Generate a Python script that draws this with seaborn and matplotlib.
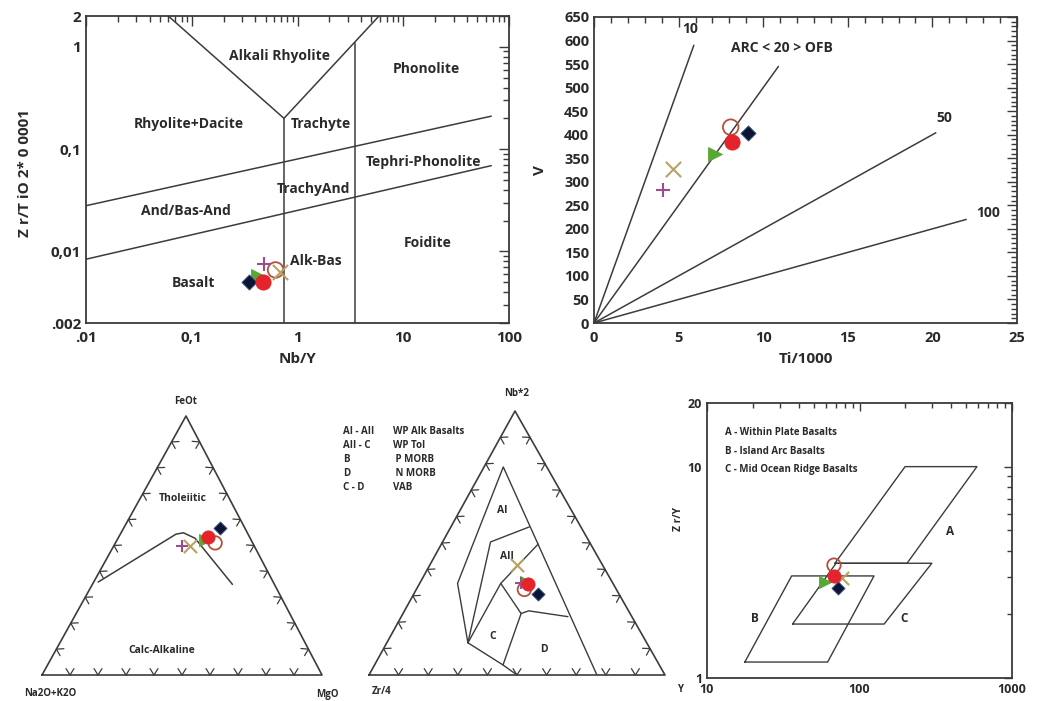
import numpy as np
import pandas as pd
import matplotlib
matplotlib.use("Agg")
import matplotlib.pyplot as plt
import seaborn as sns
from matplotlib.ticker import FixedLocator, FixedFormatter, NullFormatter, MultipleLocator

# ------------------------------------------------------------------ data
samples = ["S1", "S2", "S3", "S4", "S5", "S6"]
sample_marker = ["o", "D", ">", "o", "+", "x"]
sample_face = ["#e4232b", "#0c1533", "#58a834", "none", "#9b4d8d", "#b8a263"]
sample_edge = ["#e4232b", "#3d5a8a", "#58a834", "#b3503c", "#9b4d8d", "#b8a263"]
draw_order = [3, 2, 4, 5, 1, 0]

# Panel 1: Nb/Y vs Zr/TiO2*0.0001
wf_nb_y = [0.47, 0.35, 0.42, 0.62, 0.48, 0.68]
wf_zr_ti = [0.0050, 0.0050, 0.0058, 0.0066, 0.0075, 0.0063]
wf_upper_x = [0.01, 68]
wf_upper_y = [0.028, 0.21]
wf_lower_x = [0.01, 68]
wf_lower_y = [0.0084, 0.069]
wf_v_x = [0.06, 0.745, 5.9]
wf_v_y = [2.0, 0.2, 2.0]
wf_vert_x = [0.745, 3.5]
wf_vert_top = [0.2, 1.1]
wf_labels = ["Alkali Rhyolite", "Phonolite", "Rhyolite+Dacite", "Trachyte", "Tephri-Phonolite",
             "TrachyAnd", "And/Bas-And", "Foidite", "Alk-Bas", "Basalt"]
wf_label_x = [0.67, 16.4, 0.094, 1.67, 15.7, 1.43, 0.088, 17.0, 1.5, 0.103]
wf_label_y = [0.81, 0.61, 0.176, 0.176, 0.075, 0.041, 0.025, 0.012, 0.0081, 0.0049]
wf_xticks = [0.01, 0.1, 1, 10, 100]
wf_xticklabels = [".01", "0,1", "1", "10", "100"]
wf_yticks = [0.002, 0.01, 0.1, 1, 2]
wf_yticklabels = [".002", "0,01", "0,1", "1", "2"]

# Panel 2: Ti/1000 vs V
sh_ti = [8.15, 9.12, 7.15, 8.08, 4.10, 4.69]
sh_v = [384, 403, 359, 416, 283, 327]
sh_ratio = [10, 20, 50, 100]
sh_end_ti = [5.9, 10.9, 20.2, 22.0]
sh_labels = ["10", "ARC < 20 > OFB", "50", "100"]
sh_label_x = [5.7, 11.1, 20.7, 23.3]
sh_label_y = [625, 584, 435, 233]

# Panel 3: AFM (FeOt / MgO / Na2O+K2O)
afm_feo = [0.533, 0.568, 0.521, 0.510, 0.498, 0.498]
afm_mgo = [0.319, 0.344, 0.314, 0.356, 0.244, 0.273]
afm_alk = [0.148, 0.088, 0.165, 0.134, 0.258, 0.229]
afm_b_feo = [0.359, 0.544, 0.549, 0.528, 0.350]
afm_b_mgo = [0.016, 0.199, 0.223, 0.275, 0.500]
afm_b_alk = [0.625, 0.257, 0.228, 0.197, 0.150]
afm_labels = ["Tholeiitic", "Calc-Alkaline"]
afm_label_feo = [0.68, 0.093]
afm_label_mgo = [0.151, 0.381]
afm_label_alk = [0.169, 0.526]

# Panel 4: Nb*2 / Zr/4 / Y
m_nb = [0.344, 0.306, 0.352, 0.324, 0.347, 0.416]
m_y = [0.369, 0.419, 0.357, 0.365, 0.342, 0.296]
m_zr = [0.287, 0.275, 0.291, 0.311, 0.311, 0.288]
m_nodes = {  # (Nb*2, Y, Zr/4)
    "K": (0.788, 0.065, 0.147), "L": (0.347, 0.128, 0.525), "A": (0.122, 0.274, 0.604),
    "G": (0.0, 0.5, 0.5), "M": (0.0, 0.77, 0.23), "H": (0.504, 0.162, 0.334),
    "I": (0.561, 0.265, 0.174), "J": (0.496, 0.327, 0.177), "B": (0.347, 0.274, 0.379),
    "C": (0.233, 0.399, 0.368), "D": (0.243, 0.42, 0.337), "E": (0.221, 0.563, 0.216),
    "F": (0.038, 0.434, 0.528)}
m_paths = [["G", "F", "A", "L", "K", "M"], ["A", "H", "I"], ["A", "B", "J"],
           ["B", "C", "D", "E"], ["C", "F"]]
m_labels = ["AI", "AII", "C", "D"]
m_label_nb = [0.622, 0.448, 0.145, 0.097]
m_label_y = [0.142, 0.246, 0.345, 0.542]
m_label_zr = [0.236, 0.306, 0.51, 0.361]
m_key_left = ["AI - AII", "AII - C", "B", "D", "C - D"]
m_key_right = ["WP Alk Basalts", "WP Tol", " P MORB", " N MORB", "VAB"]

# Panel 5: Zr vs Zr/Y
pn_zr = [68, 72.6, 59.3, 68, np.nan, 76.7]
pn_zr_y = [3.04, 2.68, 2.85, 3.42, np.nan, 2.97]
pn_field_A_x = [69, 205, 589, 199]
pn_field_A_y = [3.49, 3.49, 10.0, 10.0]
pn_field_B_x = [17.7, 61.8, 124.5, 35.9]
pn_field_B_y = [1.19, 1.19, 3.04, 3.04]
pn_field_C_x = [36.4, 145, 298, 70.2]
pn_field_C_y = [1.80, 1.80, 3.49, 3.49]
pn_labels = ["A", "B", "C"]
pn_label_x = [394, 20.6, 197]
pn_label_y = [4.92, 1.91, 1.91]
pn_key = ["A - Within Plate Basalts", "B - Island Arc Basalts", "C - Mid Ocean Ridge Basalts"]

# ------------------------------------------------------------------ style
sns.set_theme(style="white")
plt.rcParams["font.family"] = ["Open Sans", "DejaVu Sans"]
plt.rcParams.update({
    "axes.edgecolor": "#3a3a3a", "axes.linewidth": 1.3,
    "text.color": "#2a2a2a", "axes.labelcolor": "#2a2a2a",
    "xtick.color": "#3a3a3a", "ytick.color": "#3a3a3a",
    "xtick.labelcolor": "#2a2a2a", "ytick.labelcolor": "#2a2a2a",
})
LINE = "#3c3c3c"
TXT = "#2a2a2a"

fig = plt.figure(figsize=(10.42, 7.01), dpi=100)
fig.patch.set_facecolor("white")


def px_axes(l, t, r, b):
    return fig.add_axes([l / 1042, 1 - b / 701, (r - l) / 1042, (b - t) / 701])


def draw_samples(ax, xs, ys, scale=1.0):
    df = pd.DataFrame({"sample": samples, "x": xs, "y": ys})
    sizes = [120, 60, 100, 125, 90, 120]
    for i in draw_order:
        row = df.iloc[[i]]
        if row[["x", "y"]].isna().any(axis=None):
            continue
        m = sample_marker[i]
        kw = dict(x="x", y="y", data=row, ax=ax, marker=m, s=sizes[i] * scale,
                  legend=False, zorder=6, clip_on=False)
        if m in ("+", "x"):
            sns.scatterplot(color=sample_face[i], linewidth=1.5, **kw)
        else:
            sns.scatterplot(color=sample_face[i], edgecolor=sample_edge[i],
                            linewidth=1.3 if sample_face[i] == "none" else 0.6, **kw)


def style_box(ax):
    ax.tick_params(which="both", direction="in", top=True, right=True, width=1.0)
    ax.tick_params(which="major", length=7)
    ax.tick_params(which="minor", length=4)
    for s in ax.spines.values():
        s.set_visible(True)
        s.set_color("#3a3a3a")
        s.set_linewidth(1.3)


# ------------------------------------------------------------------ panel 1
ax1 = px_axes(86, 16, 509, 323)
ax1.set_xscale("log")
ax1.set_yscale("log")
ax1.set_xlim(0.01, 100)
ax1.set_ylim(0.002, 2)
ax1.plot(wf_upper_x, wf_upper_y, color=LINE, lw=1.1)
ax1.plot(wf_lower_x, wf_lower_y, color=LINE, lw=1.1)
ax1.plot(wf_v_x, wf_v_y, color=LINE, lw=1.1)
for vx, vt in zip(wf_vert_x, wf_vert_top):
    ax1.plot([vx, vx], [0.002, vt], color=LINE, lw=1.1)
for t, x, y in zip(wf_labels, wf_label_x, wf_label_y):
    ax1.text(x, y, t, ha="center", va="center", fontsize=10, fontweight="bold", color=TXT)
draw_samples(ax1, wf_nb_y, wf_zr_ti)
style_box(ax1)
ax1.xaxis.set_major_locator(FixedLocator(wf_xticks))
ax1.xaxis.set_major_formatter(FixedFormatter(wf_xticklabels))
ax1.yaxis.set_major_locator(FixedLocator(wf_yticks))
ax1.yaxis.set_major_formatter(FixedFormatter(wf_yticklabels))
ax1.xaxis.set_minor_formatter(NullFormatter())
ax1.yaxis.set_minor_formatter(NullFormatter())
ax1.tick_params(labelsize=11)
for lab in ax1.get_xticklabels() + ax1.get_yticklabels():
    lab.set_fontweight("bold")
ax1.tick_params(axis="x", pad=6)
ax1.set_xlabel("Nb/Y", fontsize=11, fontweight="bold")
ax1.set_ylabel("Z r/T iO 2* 0 0001", fontsize=11, fontweight="bold")
ax1.xaxis.set_label_coords(0.5, -0.095)
ax1.yaxis.set_label_coords(-0.128, 0.49)

# ------------------------------------------------------------------ panel 2
ax2 = px_axes(594, 17, 1017, 323)
ax2.set_xlim(0, 25)
ax2.set_ylim(0, 650)
for r, xe in zip(sh_ratio, sh_end_ti):
    ax2.plot([0, xe], [0, 1000 * xe / r], color=LINE, lw=1.1)
for t, x, y in zip(sh_labels, sh_label_x, sh_label_y):
    ax2.text(x, y, t, ha="center", va="center", fontsize=10, fontweight="bold", color=TXT)
draw_samples(ax2, sh_ti, sh_v)
style_box(ax2)
ax2.xaxis.set_major_locator(MultipleLocator(5))
ax2.xaxis.set_minor_locator(MultipleLocator(1))
ax2.yaxis.set_major_locator(MultipleLocator(50))
ax2.yaxis.set_minor_locator(MultipleLocator(10))
ax2.tick_params(labelsize=10.5)
for lab in ax2.get_xticklabels() + ax2.get_yticklabels():
    lab.set_fontweight("bold")
ax2.tick_params(axis="x", pad=6)
ax2.set_xlabel("Ti/1000", fontsize=11, fontweight="bold")
ax2.set_ylabel("V", fontsize=11, fontweight="bold")
ax2.xaxis.set_label_coords(0.5, -0.095)
ax2.yaxis.set_label_coords(-0.11, 0.5)


# ------------------------------------------------------------------ ternary helpers
def tern(top, right, left, W, H, apex):
    top = np.asarray(top, float)
    right = np.asarray(right, float)
    left = np.asarray(left, float)
    tot = top + right + left
    t = top / tot
    r = right / tot
    return W * (r + apex * t), H * t


def draw_frame(ax, W, H, apex):
    P = np.array([[0, 0], [W, 0], [apex * W, H]], float)
    ax.plot(list(P[:, 0]) + [0], list(P[:, 1]) + [0], color=LINE, lw=1.2, clip_on=False)
    cen = P.mean(axis=0)
    for a, b in [(0, 1), (0, 2), (1, 2)]:
        p0, p1 = P[a], P[b]
        d = p1 - p0
        nrm = np.array([-d[1], d[0]]) / np.hypot(*d)
        if np.dot(cen - p0, nrm) < 0:
            nrm = -nrm
        for i in range(1, 10):
            p = p0 + d * i / 10
            for sg in (-1, 1):
                ang = np.deg2rad(sg * 32)
                rot = np.array([[np.cos(ang), -np.sin(ang)], [np.sin(ang), np.cos(ang)]])
                v = rot @ nrm * 7.5
                ax.plot([p[0], p[0] + v[0]], [p[1], p[1] + v[1]], color=LINE, lw=0.9,
                        clip_on=False)


def setup_tern_axes(l, t, r, b):
    ax = px_axes(l, t, r, b)
    W, H = r - l, b - t
    ax.set_xlim(0, W)
    ax.set_ylim(0, H)
    ax.axis("off")
    return ax, W, H


# ------------------------------------------------------------------ panel 3 (AFM)
ax3, W3, H3 = setup_tern_axes(42, 416, 322, 675)
ap3 = (186 - 42) / W3
draw_frame(ax3, W3, H3, ap3)
bx, by = tern(afm_b_feo, afm_b_mgo, afm_b_alk, W3, H3, ap3)
ax3.plot(bx, by, color=LINE, lw=1.1)
lx, ly = tern(afm_label_feo, afm_label_mgo, afm_label_alk, W3, H3, ap3)
for t, x, y in zip(afm_labels, lx, ly):
    ax3.text(x, y, t, ha="center", va="center", fontsize=7.5, fontweight="bold", color=TXT)
ax3.text(144, 274, "FeOt", ha="center", va="center", fontsize=7, fontweight="bold")
ax3.text(8, -18, "Na2O+K2O", ha="center", va="center", fontsize=7, fontweight="bold")
ax3.text(285, -20, "MgO", ha="center", va="center", fontsize=7, fontweight="bold")
sx, sy = tern(afm_feo, afm_mgo, afm_alk, W3, H3, ap3)
draw_samples(ax3, sx, sy, scale=0.75)

# ------------------------------------------------------------------ panel 4 (Meschede)
ax4, W4, H4 = setup_tern_axes(369, 411, 665, 675)
ap4 = (515 - 369) / W4
draw_frame(ax4, W4, H4, ap4)
for path in m_paths:
    nb = [m_nodes[k][0] for k in path]
    yy = [m_nodes[k][1] for k in path]
    zr = [m_nodes[k][2] for k in path]
    px_, py_ = tern(nb, yy, zr, W4, H4, ap4)
    ax4.plot(px_, py_, color=LINE, lw=1.0)
lx, ly = tern(m_label_nb, m_label_y, m_label_zr, W4, H4, ap4)
for t, x, y in zip(m_labels, lx, ly):
    ax4.text(x, y, t, ha="center", va="center", fontsize=7.5, fontweight="bold", color=TXT)
ax4.text(148, 282, "Nb*2", ha="center", va="center", fontsize=7, fontweight="bold")
ax4.text(13, -17, "Zr/4", ha="center", va="center", fontsize=7, fontweight="bold")
ax4.text(311, -15, "Y", ha="center", va="center", fontsize=7, fontweight="bold")
for k, (a, b) in enumerate(zip(m_key_left, m_key_right)):
    yk = 244 - 14 * k
    ax4.text(-26, yk, a, ha="left", va="center", fontsize=7, fontweight="bold")
    ax4.text(24, yk, b, ha="left", va="center", fontsize=7, fontweight="bold")
sx, sy = tern(m_nb, m_y, m_zr, W4, H4, ap4)
draw_samples(ax4, sx, sy, scale=0.75)

# ------------------------------------------------------------------ panel 5 (Pearce & Norry)
ax5 = px_axes(707, 403, 1012, 678)
ax5.set_xscale("log")
ax5.set_yscale("log")
ax5.set_xlim(10, 1000)
ax5.set_ylim(1, 20)
for fx, fy in [(pn_field_A_x, pn_field_A_y), (pn_field_B_x, pn_field_B_y),
               (pn_field_C_x, pn_field_C_y)]:
    ax5.plot(fx + fx[:1], fy + fy[:1], color=LINE, lw=1.0)
for t, x, y in zip(pn_labels, pn_label_x, pn_label_y):
    ax5.text(x, y, t, ha="center", va="center", fontsize=8.5, fontweight="bold", color=TXT)
for k, t in enumerate(pn_key):
    ax5.text(0.058, 0.891 - 0.066 * k, t, transform=ax5.transAxes, ha="left", va="center",
             fontsize=7, fontweight="bold")
draw_samples(ax5, pn_zr, pn_zr_y, scale=0.75)
style_box(ax5)
ax5.xaxis.set_major_locator(FixedLocator([10, 100, 1000]))
ax5.xaxis.set_major_formatter(FixedFormatter(["10", "100", "1000"]))
ax5.yaxis.set_major_locator(FixedLocator([1, 10, 20]))
ax5.yaxis.set_major_formatter(FixedFormatter(["1", "10", "20"]))
ax5.yaxis.set_minor_locator(FixedLocator([2, 3, 4, 5, 6, 7, 8, 9]))
ax5.xaxis.set_minor_formatter(NullFormatter())
ax5.yaxis.set_minor_formatter(NullFormatter())
ax5.tick_params(labelsize=9)
ax5.tick_params(which="major", length=6)
ax5.tick_params(which="minor", length=3.5)
for lab in ax5.get_xticklabels() + ax5.get_yticklabels():
    lab.set_fontweight("bold")
ax5.set_xlabel("")
ax5.set_ylabel("Z r/Y", fontsize=7.5, fontweight="bold")
ax5.yaxis.set_label_coords(-0.075, 0.58)

fig.savefig("out.png", dpi=100, facecolor="white")
